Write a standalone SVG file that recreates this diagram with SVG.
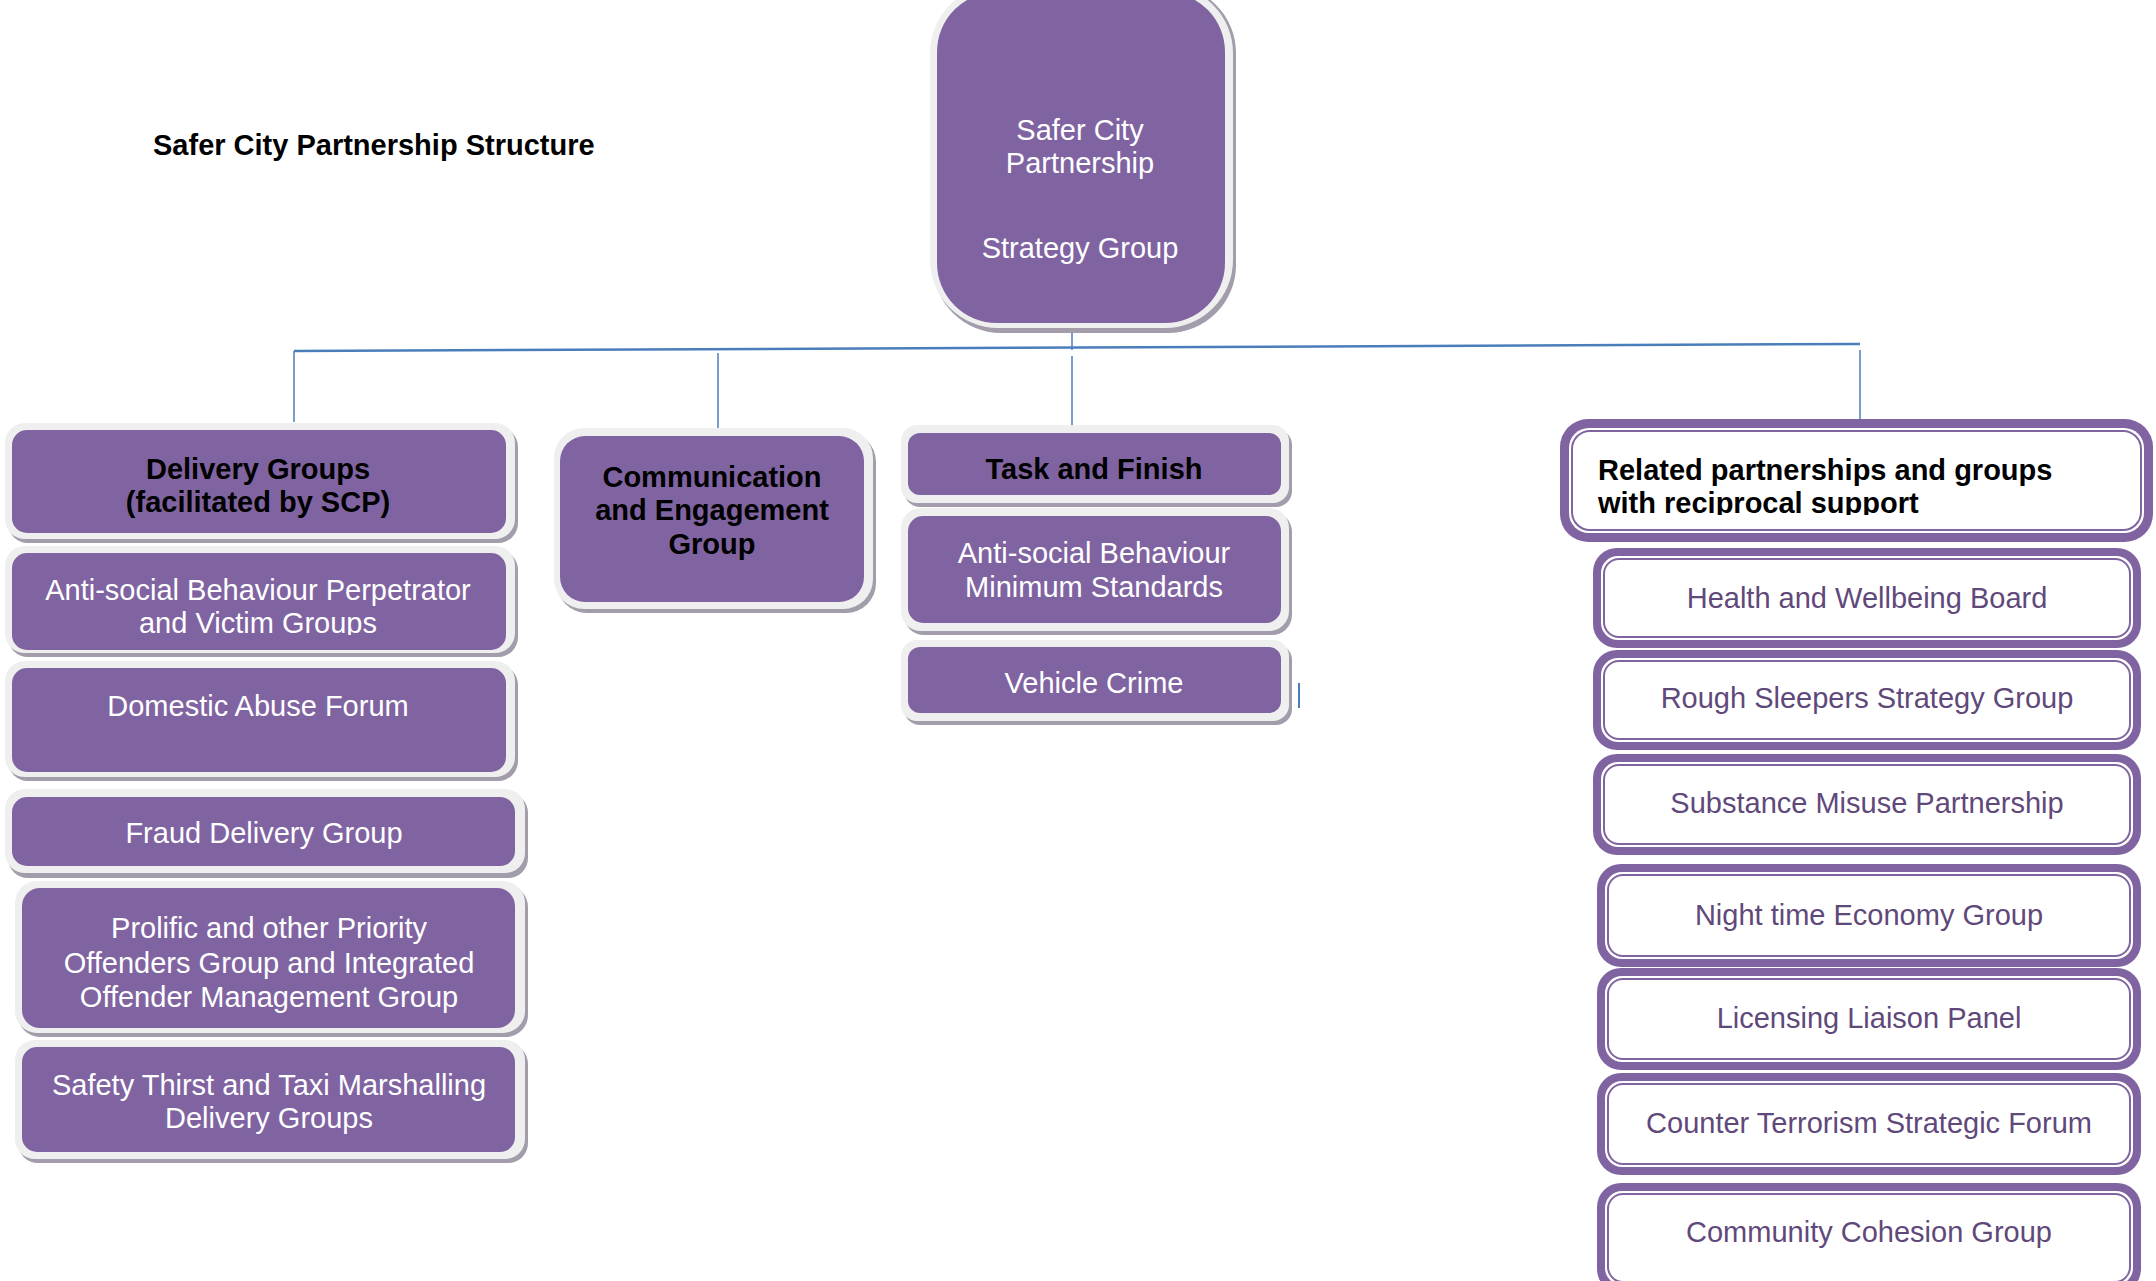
<svg xmlns="http://www.w3.org/2000/svg" width="2156" height="1281" viewBox="0 0 2156 1281">
<style>
text{font-family:"Liberation Sans",Arial,sans-serif;font-size:29px}
.sh{fill:#a29cab}
.bd{fill:#efefef}
.pu{fill:#8064a2}
.wt{fill:#ffffff;text-anchor:middle}
.bk{fill:#000000;font-weight:bold;text-anchor:middle}
.rp{fill:#8064a2}
.rw{fill:#ffffff}
.rl{fill:none;stroke:#8064a2;stroke-width:2}
.rt{fill:#5f497a;text-anchor:middle}
.cn{stroke:#4a7ebb;fill:none}
</style>
<defs>
<clipPath id="clipAsb"><rect x="0" y="540" width="540" height="95"/></clipPath>
<clipPath id="clipRel"><rect x="1560" y="419" width="593" height="96"/></clipPath>
</defs>
<rect width="2156" height="1281" fill="#ffffff"/>
<text x="153" y="155" style="font-weight:bold" fill="#000">Safer City Partnership Structure</text>

<g id="connectors">
<line class="cn" x1="1072" y1="333" x2="1072" y2="350" stroke-width="1.5"/>
<line class="cn" x1="294" y1="351" x2="1860" y2="344" stroke-width="2.5"/>
<line class="cn" x1="294" y1="351" x2="294" y2="422" stroke-width="1.5"/>
<line class="cn" x1="718" y1="353" x2="718" y2="428" stroke-width="1.5"/>
<line class="cn" x1="1072" y1="356" x2="1072" y2="433" stroke-width="1.5"/>
<line class="cn" x1="1860" y1="350" x2="1860" y2="420" stroke-width="1.5"/>
<line class="cn" x1="1299" y1="683" x2="1299" y2="708" stroke-width="2"/>
</g>

<g id="strategy">
<rect class="sh" x="933" y="-15" width="303" height="348" rx="68"/>
<rect class="bd" x="930" y="-15" width="303" height="343" rx="68"/>
<rect class="pu" x="937" y="-8" width="288" height="331" rx="60"/>
<text class="wt" x="1080" y="140">Safer City</text>
<text class="wt" x="1080" y="173">Partnership</text>
<text class="wt" x="1080" y="258">Strategy Group</text>
</g>

<g id="delivery">
<rect class="sh" x="8" y="427" width="510" height="116" rx="20"/>
<rect class="bd" x="5" y="423" width="510" height="116" rx="20"/>
<rect class="pu" x="12" y="430" width="494" height="103" rx="15"/>
<text class="bk" x="258" y="479">Delivery Groups</text>
<text class="bk" x="258" y="512">(facilitated by SCP)</text>
</g>

<g id="asb-perp">
<rect class="sh" x="8" y="550" width="510" height="107" rx="20"/>
<rect class="bd" x="5" y="546" width="510" height="107" rx="20"/>
<rect class="pu" x="12" y="553" width="494" height="97" rx="15"/>
<text class="wt" x="258" y="600">Anti-social Behaviour Perpetrator</text>
<text class="wt" x="258" y="633" clip-path="url(#clipAsb)">and Victim Groups</text>
</g>

<g id="domestic">
<rect class="sh" x="8" y="665" width="510" height="116" rx="20"/>
<rect class="bd" x="5" y="661" width="510" height="116" rx="20"/>
<rect class="pu" x="12" y="668" width="494" height="104" rx="15"/>
<text class="wt" x="258" y="716">Domestic Abuse Forum</text>
</g>

<g id="fraud">
<rect class="sh" x="8" y="793" width="520" height="85" rx="20"/>
<rect class="bd" x="5" y="789" width="520" height="84" rx="20"/>
<rect class="pu" x="12" y="797" width="503" height="69" rx="15"/>
<text class="wt" x="264" y="843">Fraud Delivery Group</text>
</g>

<g id="prolific">
<rect class="sh" x="18" y="885" width="510" height="152" rx="22"/>
<rect class="bd" x="15" y="881" width="510" height="152" rx="22"/>
<rect class="pu" x="22" y="888" width="493" height="140" rx="18"/>
<text class="wt" x="269" y="938">Prolific and other Priority</text>
<text class="wt" x="269" y="973">Offenders Group and Integrated</text>
<text class="wt" x="269" y="1007">Offender Management Group</text>
</g>

<g id="safety">
<rect class="sh" x="18" y="1044" width="510" height="119" rx="20"/>
<rect class="bd" x="15" y="1040" width="510" height="119" rx="20"/>
<rect class="pu" x="22" y="1047" width="493" height="105" rx="15"/>
<text class="wt" x="269" y="1095">Safety Thirst and Taxi Marshalling</text>
<text class="wt" x="269" y="1128">Delivery Groups</text>
</g>

<g id="comms">
<rect class="sh" x="557" y="432" width="319" height="181" rx="30"/>
<rect class="bd" x="554" y="428" width="319" height="181" rx="30"/>
<rect class="pu" x="560" y="436" width="304" height="166" rx="25"/>
<text class="bk" x="712" y="487">Communication</text>
<text class="bk" x="712" y="520">and Engagement</text>
<text class="bk" x="712" y="554">Group</text>
</g>

<g id="task">
<rect class="sh" x="904" y="429" width="388" height="78" rx="16"/>
<rect class="bd" x="901" y="425" width="388" height="78" rx="16"/>
<rect class="pu" x="908" y="433" width="373" height="62" rx="12"/>
<text class="bk" x="1094" y="479">Task and Finish</text>
</g>

<g id="asb-min">
<rect class="sh" x="904" y="512" width="388" height="123" rx="20"/>
<rect class="bd" x="901" y="508" width="388" height="123" rx="20"/>
<rect class="pu" x="908" y="516" width="373" height="107" rx="15"/>
<text class="wt" x="1094" y="563">Anti-social Behaviour</text>
<text class="wt" x="1094" y="597">Minimum Standards</text>
</g>

<g id="vehicle">
<rect class="sh" x="904" y="644" width="388" height="81" rx="16"/>
<rect class="bd" x="901" y="640" width="388" height="81" rx="16"/>
<rect class="pu" x="908" y="647" width="373" height="66" rx="12"/>
<text class="wt" x="1094" y="693">Vehicle Crime</text>
</g>

<g id="related">
<rect class="rp" x="1560" y="419" width="593" height="123" rx="28"/>
<rect class="rw" x="1569" y="428" width="575" height="105" rx="20"/>
<rect class="rl" x="1572" y="431" width="569" height="99" rx="18"/>
<text x="1598" y="480" style="font-weight:bold" fill="#000">Related partnerships and groups</text>
<text x="1598" y="513" style="font-weight:bold" fill="#000" clip-path="url(#clipRel)">with reciprocal support</text>
</g>

<g id="health">
<rect class="rp" x="1593" y="548" width="548" height="100" rx="24"/>
<rect class="rw" x="1601" y="556" width="532" height="84" rx="17"/>
<rect class="rl" x="1604" y="559" width="526" height="78" rx="15"/>
<text class="rt" x="1867" y="608">Health and Wellbeing Board</text>
</g>

<g id="rough">
<rect class="rp" x="1593" y="650" width="548" height="100" rx="24"/>
<rect class="rw" x="1601" y="658" width="532" height="84" rx="17"/>
<rect class="rl" x="1604" y="661" width="526" height="78" rx="15"/>
<text class="rt" x="1867" y="708">Rough Sleepers Strategy Group</text>
</g>

<g id="substance">
<rect class="rp" x="1593" y="754" width="548" height="101" rx="24"/>
<rect class="rw" x="1601" y="762" width="532" height="85" rx="17"/>
<rect class="rl" x="1604" y="765" width="526" height="79" rx="15"/>
<text class="rt" x="1867" y="813">Substance Misuse Partnership</text>
</g>

<g id="night">
<rect class="rp" x="1597" y="864" width="544" height="103" rx="24"/>
<rect class="rw" x="1605" y="872" width="528" height="87" rx="17"/>
<rect class="rl" x="1608" y="875" width="522" height="81" rx="15"/>
<text class="rt" x="1869" y="925">Night time Economy Group</text>
</g>

<g id="licensing">
<rect class="rp" x="1597" y="968" width="544" height="102" rx="24"/>
<rect class="rw" x="1605" y="976" width="528" height="86" rx="17"/>
<rect class="rl" x="1608" y="979" width="522" height="80" rx="15"/>
<text class="rt" x="1869" y="1028">Licensing Liaison Panel</text>
</g>

<g id="counter">
<rect class="rp" x="1597" y="1073" width="544" height="102" rx="24"/>
<rect class="rw" x="1605" y="1081" width="528" height="86" rx="17"/>
<rect class="rl" x="1608" y="1084" width="522" height="80" rx="15"/>
<text class="rt" x="1869" y="1133">Counter Terrorism Strategic Forum</text>
</g>

<g id="community">
<rect class="rp" x="1597" y="1183" width="544" height="110" rx="24"/>
<rect class="rw" x="1605" y="1191" width="528" height="94" rx="17"/>
<rect class="rl" x="1608" y="1194" width="522" height="88" rx="15"/>
<text class="rt" x="1869" y="1242">Community Cohesion Group</text>
</g>
</svg>
